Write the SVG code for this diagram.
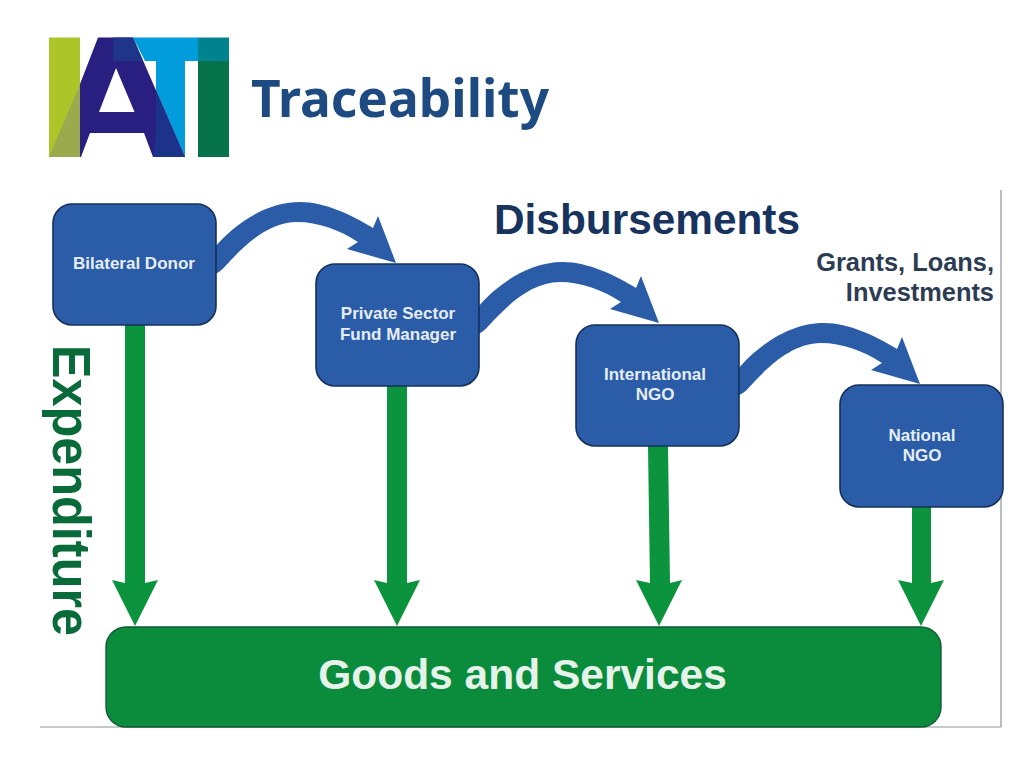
<svg xmlns="http://www.w3.org/2000/svg" width="1024" height="768" viewBox="0 0 1024 768">
<style>
.node{fill:#2a5ca8;stroke:#16305a;stroke-width:1.6}
.nl{font:bold 17px "Liberation Sans",Arial,sans-serif;fill:#e6edf5;text-anchor:middle}
.bl{fill:#2a5ca8}
.gr{fill:#0b933e}
.rule{stroke:#8d949c;stroke-width:1.2;fill:none}
.dt{font-family:"Liberation Sans",Arial,sans-serif;font-weight:bold}
</style>
<defs>
<path id="curve" d="M215,247 C230,229 262,202 300,202 C325,202 352,215 373,228 L378,216 L396,263 L347,249 L358,242 C340,230 318,222 297,222 C272,222 250,240 233,258 C226,265 221,272 215,274 Z"/>
<path id="down" d="M-10,0 H10 V258 L23,255 L0,301 L-23,255 L-10,258 Z"/>
</defs>
<rect width="1024" height="768" fill="#fff"/>
<g id="logo">
<rect x="49" y="37.500" width="31" height="119.500" fill="#acc62a"/>
<polygon points="80,84 49,157 80,157" fill="#9aaa4c"/>
<polygon points="133,37.500 198,37.500 198,61 185,61 185,157 156,90 156,61 145,61" fill="#009cdc"/>
<rect x="198" y="37.500" width="31" height="23.500" fill="#00838f"/>
<rect x="198" y="61" width="31" height="96" fill="#06734a"/>
<path d="M98,37.500 H133 L185,157 H153 L144,133 H90 L81,157 H80 V84 Z M116,68 L99,112 H134.500 Z" fill="#291f80" fill-rule="evenodd"/>
<polygon points="113,37.500 133,37.500 143,61 113,61" fill="#1f3688"/>
<polygon points="156,90 185,157 153,157 156,135" fill="#1b3388"/>
</g>
<text id="title" x="251" y="117" font-family="'Noto Sans','Open Sans',sans-serif" font-weight="bold" font-size="52" fill="#1d4a80" textLength="298" lengthAdjust="spacingAndGlyphs">Traceability</text>
<path class="rule" d="M1001,190 V727 M40,727 H1001"/>
<text class="dt" x="494" y="234" font-size="42" fill="#17335e" textLength="306" lengthAdjust="spacingAndGlyphs">Disbursements</text>
<text class="dt" x="994" y="271" font-size="25.400" fill="#2c3c52" text-anchor="end">Grants, Loans,</text>
<text class="dt" x="994" y="301" font-size="25.400" fill="#2c3c52" text-anchor="end">Investments</text>
<text class="dt" transform="translate(53,345) rotate(90)" font-size="54" fill="#0a6b3a" textLength="291" lengthAdjust="spacingAndGlyphs">Expenditure</text>
<g id="connectors">
<use href="#curve" class="bl"/>
<use href="#curve" class="bl" x="263" y="60"/>
<use href="#curve" class="bl" x="524" y="121"/>
<use href="#down" class="gr" x="135" y="325"/>
<use href="#down" class="gr" x="397" y="325"/>
<path class="gr" d="M648,446 H668 L670,583 L682,580 L659,626 L636,580 L650,583 Z"/>
<path class="gr" d="M912,507 H931 V583 L944,580 L921,626 L898,580 L912,583 Z"/>
</g>
<g id="n-bilateral"><rect class="node" x="53" y="204" width="163" height="121" rx="19"/><text class="nl" x="134" y="269">Bilateral Donor</text></g>
<g id="n-private"><rect class="node" x="316" y="264" width="163" height="122" rx="19"/><text class="nl" x="398" y="319">Private Sector</text><text class="nl" x="398" y="340">Fund Manager</text></g>
<g id="n-international"><rect class="node" x="576" y="325" width="163" height="121" rx="19"/><text class="nl" x="655" y="380">International</text><text class="nl" x="655" y="400">NGO</text></g>
<g id="n-national"><rect class="node" x="840" y="385" width="163" height="122" rx="19"/><text class="nl" x="922" y="441">National</text><text class="nl" x="922" y="461">NGO</text></g>
<g id="n-goods"><rect x="106" y="627" width="835" height="100" rx="20" fill="#0b8c3c" stroke="#0d5c34" stroke-width="1.400"/><text class="dt" x="522.500" y="689" font-size="42.500" fill="#e6f3ea" text-anchor="middle">Goods and Services</text></g>
</svg>
